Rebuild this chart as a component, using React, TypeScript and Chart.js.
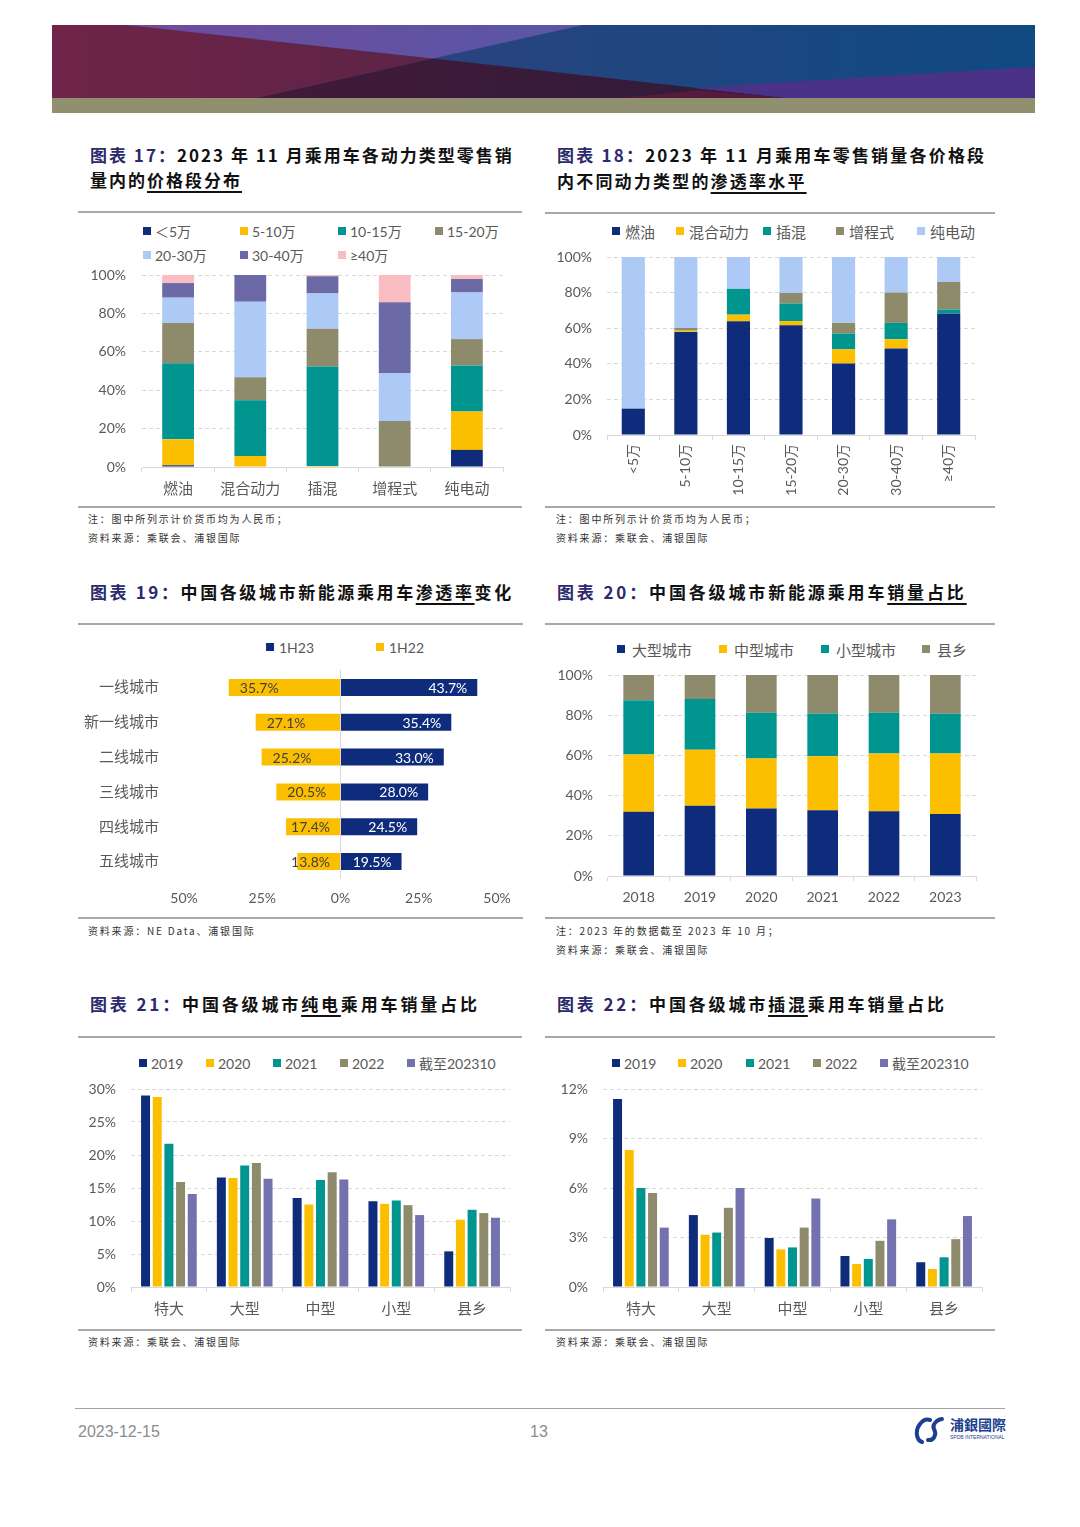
import React, { useEffect, useRef } from 'react';
import { Chart, registerables } from 'chart.js';

Chart.register(...registerables);

// ---------------- Chart 17 data ----------------
const POWER_TYPES = ['燃油', '混合动力', '插混', '增程式', '纯电动'];
const PRICE_BANDS_17 = ['＜5万', '5-10万', '10-15万', '15-20万', '20-30万', '30-40万', '≥40万'];
const SHARE_LT5 = [0.9, 0, 0, 0, 8.9];
const SHARE_5_10 = [13.5, 5.7, 0.5, 0, 20.0];
const SHARE_10_15 = [39.7, 29.1, 51.8, 0, 24.0];
const SHARE_15_20 = [20.9, 12.0, 19.7, 24.0, 13.7];
const SHARE_20_30 = [13.2, 39.3, 18.3, 24.9, 24.3];
const SHARE_30_40 = [7.6, 13.9, 9.0, 36.9, 7.0];
const SHARE_GE40 = [4.2, 0, 0.7, 14.2, 2.1];

// ---------------- Chart 18 data ----------------
const PRICE_BANDS_18 = ['<5万', '5-10万', '10-15万', '15-20万', '20-30万', '30-40万', '≥40万'];
const POWER_SERIES_18 = ['燃油', '混合动力', '插混', '增程式', '纯电动'];
const PEN_ICE = [14.8, 57.9, 63.9, 61.7, 40.2, 48.6, 68.3];
const PEN_HEV = [0, 0.8, 3.7, 2.3, 7.9, 5.2, 0];
const PEN_PHEV = [0, 0.3, 14.5, 9.9, 8.9, 9.2, 2.2];
const PEN_EREV = [0, 1.1, 0, 5.9, 6.0, 17.0, 15.5];
const PEN_BEV = [85.2, 39.9, 17.9, 20.2, 37.0, 20.0, 14.0];

// ---------------- Chart 19 data ----------------
const CITY_TIERS = ['一线城市', '新一线城市', '二线城市', '三线城市', '四线城市', '五线城市'];
const HALF_YEARS = ['1H23', '1H22'];
const PEN_1H23 = [43.7, 35.4, 33.0, 28.0, 24.5, 19.5];
const PEN_1H22 = [35.7, 27.1, 25.2, 20.5, 17.4, 13.8];
const AXIS19_TICKS = [-50, -25, 0, 25, 50];

// ---------------- Chart 20 data ----------------
const YEARS_20 = ['2018', '2019', '2020', '2021', '2022', '2023'];
const CITY_CLASSES = ['大型城市', '中型城市', '小型城市', '县乡'];
const SHARE_LARGE = [32.0, 35.0, 33.6, 32.7, 32.2, 30.9];
const SHARE_MEDIUM = [28.5, 27.8, 24.9, 26.9, 28.8, 30.1];
const SHARE_SMALL = [27.0, 25.2, 22.7, 21.3, 20.2, 19.7];
const SHARE_COUNTY = [12.5, 12.0, 18.8, 19.1, 18.8, 19.3];

// ---------------- Chart 21 / 22 data ----------------
const CITY_SIZES = ['特大', '大型', '中型', '小型', '县乡'];
const SERIES_YEARS = ['2019', '2020', '2021', '2022', '截至202310'];
const BEV_2019 = [29.0, 16.6, 13.5, 13.0, 5.4];
const BEV_2020 = [28.8, 16.5, 12.5, 12.6, 10.2];
const BEV_2021 = [21.7, 18.4, 16.2, 13.1, 11.7];
const BEV_2022 = [15.9, 18.8, 17.4, 12.4, 11.2];
const BEV_202310 = [14.1, 16.4, 16.3, 10.9, 10.5];
const PHEV_2019 = [11.4, 4.36, 2.97, 1.88, 1.5];
const PHEV_2020 = [8.3, 3.17, 2.28, 1.39, 1.09];
const PHEV_2021 = [6.0, 3.3, 2.4, 1.7, 1.8];
const PHEV_2022 = [5.7, 4.8, 3.6, 2.8, 2.9];
const PHEV_202310 = [3.6, 6.0, 5.37, 4.1, 4.3];

// ---------------- styles ----------------
const NAVY = '#0f2c7c';
const YELLOW = '#fcbf00';
const TEAL = '#00958f';
const OLIVE = '#8d8b6b';
const LIGHTBLUE = '#adc9f5';
const PURPLE = '#6b69a6';
const PINK = '#f9bcc1';
const PURPLE2 = '#7372ae';
const COLORS17 = [NAVY, YELLOW, TEAL, OLIVE, LIGHTBLUE, PURPLE, PINK];
const COLORS18 = [NAVY, YELLOW, TEAL, OLIVE, LIGHTBLUE];
const COLORS20 = [NAVY, YELLOW, TEAL, OLIVE];
const COLORS21 = [NAVY, YELLOW, TEAL, OLIVE, PURPLE2];
const FONT = 'Lato, "Noto Sans CJK SC", sans-serif';
const CJKFONT = '"Noto Sans CJK SC", sans-serif';
const TICK = '#595959';
const GRID = '#d9d9d9';

Chart.defaults.font.family = FONT;

function baseOptions(padding: any) {
  return {
    responsive: false,
    maintainAspectRatio: false,
    animation: false,
    devicePixelRatio: 1,
    layout: { padding },
    plugins: { legend: { display: false }, tooltip: { enabled: false }, title: { display: false } },
  };
}

function zeroPad(s: any) {
  s.paddingTop = 0;
  s.paddingBottom = 0;
  s.paddingLeft = 0;
  s.paddingRight = 0;
}

function pctY(max: number, step: number, width: number, padding: number, stacked: boolean) {
  return {
    stacked,
    min: 0,
    max,
    ticks: {
      stepSize: step,
      callback: (v: any) => v + '%',
      color: TICK,
      font: { family: FONT, size: 14 },
      padding,
    },
    grid: { color: GRID, drawTicks: false, lineWidth: 1 },
    border: { display: false, dash: [4, 3] },
    afterFit: (s: any) => {
      s.width = width;
      zeroPad(s);
    },
  };
}

function catX(height: number, padding: number, stacked: boolean, size: number, rotate: number) {
  return {
    stacked,
    offset: true,
    ticks: {
      color: TICK,
      font: { family: FONT, size },
      padding,
      maxRotation: rotate,
      minRotation: rotate,
      autoSkip: false,
    },
    grid: { display: true, drawOnChartArea: false, drawTicks: true, tickLength: 5, color: GRID, offset: true },
    border: { display: true, color: GRID },
    afterFit: (s: any) => {
      s.height = height;
      zeroPad(s);
    },
  };
}

const build17 = () => ({
  type: 'bar',
  data: {
    labels: POWER_TYPES,
    datasets: [SHARE_LT5, SHARE_5_10, SHARE_10_15, SHARE_15_20, SHARE_20_30, SHARE_30_40, SHARE_GE40].map((d, i) => ({
      label: PRICE_BANDS_17[i],
      data: d,
      backgroundColor: COLORS17[i],
      categoryPercentage: 1,
      barPercentage: 0.44,
    })),
  },
  options: {
    ...baseOptions({ top: 10, right: 7, left: 0, bottom: 0 }),
    scales: { x: catX(33, 8, true, 15, 0), y: pctY(100, 20, 62, 16, true) },
  },
});

const build18 = () => ({
  type: 'bar',
  data: {
    labels: PRICE_BANDS_18,
    datasets: [PEN_ICE, PEN_HEV, PEN_PHEV, PEN_EREV, PEN_BEV].map((d, i) => ({
      label: POWER_SERIES_18[i],
      data: d,
      backgroundColor: COLORS18[i],
      categoryPercentage: 1,
      barPercentage: 0.44,
    })),
  },
  options: {
    ...baseOptions({ top: 11, right: 10, left: 0, bottom: 0 }),
    scales: { x: catX(70, 4, true, 14, 90), y: pctY(100, 20, 57, 15, true) },
  },
});

const divergingLabels = {
  id: 'divergingLabels',
  afterDatasetsDraw(chart: any) {
    const ctx = chart.ctx;
    ctx.save();
    ctx.font = '14px ' + FONT;
    ctx.textBaseline = 'middle';
    ctx.textAlign = 'left';
    chart.data.datasets.forEach((ds: any, di: number) => {
      const meta = chart.getDatasetMeta(di);
      meta.data.forEach((bar: any, i: number) => {
        const v = ds.data[i] as number;
        const txt = Math.abs(v).toFixed(1) + '%';
        const w = ctx.measureText(txt).width;
        if (v >= 0) {
          ctx.fillStyle = '#ffffff';
          ctx.fillText(txt, bar.x - 10 - w, bar.y + 1);
        } else {
          ctx.fillStyle = '#404040';
          const x = Math.min(bar.x + 11, bar.base - 10 - w);
          ctx.fillText(txt, x, bar.y + 1);
        }
      });
    });
    ctx.restore();
  },
};

const build19 = () => ({
  type: 'bar',
  data: {
    labels: CITY_TIERS,
    datasets: [
      { label: HALF_YEARS[0], data: PEN_1H23, backgroundColor: NAVY, categoryPercentage: 1, barPercentage: 0.49 },
      { label: HALF_YEARS[1], data: PEN_1H22.map((v) => -v), backgroundColor: YELLOW, categoryPercentage: 1, barPercentage: 0.49 },
    ],
  },
  options: {
    ...baseOptions({ top: 10, right: 20, left: 0, bottom: 0 }),
    indexAxis: 'y',
    scales: {
      x: {
        stacked: true,
        min: AXIS19_TICKS[0],
        max: AXIS19_TICKS[AXIS19_TICKS.length - 1],
        afterBuildTicks: (s: any) => {
          s.ticks = AXIS19_TICKS.map((v) => ({ value: v }));
        },
        ticks: {
          callback: (v: any) => Math.abs(v) + '%',
          color: TICK,
          font: { family: FONT, size: 14 },
          padding: 11,
          maxRotation: 0,
        },
        grid: {
          drawTicks: false,
          color: (c: any) => (c.tick && c.tick.value === 0 ? GRID : 'rgba(0,0,0,0)'),
        },
        border: { display: false },
        afterFit: (s: any) => {
          s.height = 36;
          zeroPad(s);
        },
      },
      y: {
        stacked: true,
        ticks: { color: TICK, font: { family: FONT, size: 15 }, padding: 17 },
        grid: { display: false },
        border: { display: false },
        afterFit: (s: any) => {
          s.width = 104;
          zeroPad(s);
        },
      },
    },
  },
  plugins: [divergingLabels],
});

const build20 = () => ({
  type: 'bar',
  data: {
    labels: YEARS_20,
    datasets: [SHARE_LARGE, SHARE_MEDIUM, SHARE_SMALL, SHARE_COUNTY].map((d, i) => ({
      label: CITY_CLASSES[i],
      data: d,
      backgroundColor: COLORS20[i],
      categoryPercentage: 1,
      barPercentage: 0.5,
    })),
  },
  options: {
    ...baseOptions({ top: 10, right: 9, left: 0, bottom: 0 }),
    scales: { x: catX(34, 8, true, 14, 0), y: pctY(100, 20, 58, 15, true) },
  },
});

const buildGrouped = (series: number[][], max: number, step: number, yWidth: number) => () => ({
  type: 'bar',
  data: {
    labels: CITY_SIZES,
    datasets: series.map((d, i) => ({
      label: SERIES_YEARS[i],
      data: d,
      backgroundColor: COLORS21[i],
      categoryPercentage: 0.77,
      barPercentage: 0.77,
    })),
  },
  options: {
    ...baseOptions({ top: 10, right: 8, left: 0, bottom: 0 }),
    scales: { x: catX(33, 8, false, 15, 0), y: pctY(max, step, yWidth, 15, false) },
  },
});

const build21 = buildGrouped([BEV_2019, BEV_2020, BEV_2021, BEV_2022, BEV_202310], 30, 5, 53);
const build22 = buildGrouped([PHEV_2019, PHEV_2020, PHEV_2021, PHEV_2022, PHEV_202310], 12, 3, 58);

function ChartBox({ x, y, w, h, build }: { x: number; y: number; w: number; h: number; build: () => any }) {
  const ref = useRef<HTMLCanvasElement | null>(null);
  useEffect(() => {
    if (!ref.current) return;
    const chart = new Chart(ref.current, build() as any);
    return () => chart.destroy();
  }, []);
  return (
    <div style={{ position: 'absolute', left: x, top: y, width: w, height: h }}>
      <canvas ref={ref} width={w} height={h} style={{ display: 'block', width: w, height: h }} />
    </div>
  );
}

function Legend({ items, y, size, gap }: { items: [number, string, string][]; y: number; size: number; gap: number }) {
  return (
    <>
      {items.map(([x, label, color], i) => (
        <div
          key={i}
          style={{
            position: 'absolute',
            left: x,
            top: y - 11,
            height: 22,
            display: 'flex',
            alignItems: 'center',
            whiteSpace: 'nowrap',
            fontFamily: FONT,
            fontSize: size,
            color: TICK,
          }}
        >
          <span style={{ display: 'inline-block', width: 8, height: 8, background: color, marginRight: gap }} />
          <span>{label}</span>
        </div>
      ))}
    </>
  );
}

function Title({ x, y, num, parts, ls }: { x: number; y: number; num?: string; parts: [string, boolean][]; ls: number }) {
  return (
    <div
      style={{
        position: 'absolute',
        left: x,
        top: y - 12,
        lineHeight: '24px',
        fontFamily: CJKFONT,
        fontWeight: 700,
        fontSize: 17,
        letterSpacing: ls,
        whiteSpace: 'nowrap',
        color: '#111',
      }}
    >
      {num ? <span style={{ color: '#2c2a6c' }}>{'图表 ' + num + '：'}</span> : null}
      {parts.map(([t, u], i) =>
        u ? (
          <span key={i} style={{ textDecoration: 'underline', textUnderlineOffset: 4, textDecorationThickness: 1.5 }}>
            {t}
          </span>
        ) : (
          <span key={i}>{t}</span>
        ),
      )}
    </div>
  );
}

function Rule({ x, y, w }: { x: number; y: number; w: number }) {
  return <div style={{ position: 'absolute', left: x, top: y - 1, width: w, height: 2, background: '#a8a8a8' }} />;
}

function Note({ x, y, text }: { x: number; y: number; text: string }) {
  return (
    <div
      style={{
        position: 'absolute',
        left: x,
        top: y - 7,
        lineHeight: '14px',
        fontFamily: CJKFONT,
        fontSize: 10,
        letterSpacing: 1.8,
        color: '#333',
        whiteSpace: 'nowrap',
      }}
    >
      {text}
    </div>
  );
}

export default function App() {
  return (
    <div
      style={{
        position: 'absolute',
        left: 0,
        top: 0,
        width: 1080,
        height: 1527,
        background: '#ffffff',
        overflow: 'hidden',
        fontFamily: CJKFONT,
      }}
    >
      {/* header banner */}
      <svg style={{ position: 'absolute', left: 0, top: 0 }} width={1080} height={120}>
        <defs>
          <linearGradient id="gMaroon" x1="0" x2="1" y1="0" y2="0">
            <stop offset="0" stopColor="#702449" />
            <stop offset="1" stopColor="#5d2446" />
          </linearGradient>
          <linearGradient id="gPurple" x1="0" x2="1" y1="0" y2="0">
            <stop offset="0" stopColor="#6e4c9d" />
            <stop offset="1" stopColor="#5a56a5" />
          </linearGradient>
          <linearGradient id="gBlue" x1="0" x2="1" y1="0" y2="0">
            <stop offset="0" stopColor="#3a3f7f" />
            <stop offset="1" stopColor="#0f4a80" />
          </linearGradient>
          <linearGradient id="gDark" x1="0" x2="1" y1="0" y2="0">
            <stop offset="0" stopColor="#421a38" />
            <stop offset="1" stopColor="#2f1c3a" />
          </linearGradient>
        </defs>
        <rect x={52} y={25} width={983} height={73} fill="url(#gBlue)" />
        <polygon points="52,25 127,25 433,58.5 257,98 52,98" fill="url(#gMaroon)" />
        <polygon points="127,25 583,25 433,58.5" fill="url(#gPurple)" />
        <polygon points="257,98 433,58.5 787,98" fill="url(#gDark)" />
        <polygon points="620,98 700,90 787,98" fill="#561b3c" />
        <polygon points="693,88 1035,66.7 1035,98 787,98" fill="#4a3286" />
        <rect x={52} y={98} width={983} height={15} fill="#908f6f" />
      </svg>

      {/* Chart 17 */}
      <Title x={90} y={155} num="17" parts={[['2023 年 11 月乘用车各动力类型零售销', false]]} ls={2} />
      <Title x={90} y={180} parts={[['量内的', false], ['价格段分布', true]]} ls={2} />
      <Rule x={78} y={212} w={444} />
      <Legend
        y={231}
        size={14}
        gap={4}
        items={[
          [143, PRICE_BANDS_17[0], COLORS17[0]],
          [240, PRICE_BANDS_17[1], COLORS17[1]],
          [338, PRICE_BANDS_17[2], COLORS17[2]],
          [435, PRICE_BANDS_17[3], COLORS17[3]],
        ]}
      />
      <Legend
        y={255}
        size={14}
        gap={4}
        items={[
          [143, PRICE_BANDS_17[4], COLORS17[4]],
          [240, PRICE_BANDS_17[5], COLORS17[5]],
          [338, PRICE_BANDS_17[6], COLORS17[6]],
        ]}
      />
      <ChartBox x={80} y={265} w={430} h={235} build={build17} />
      <Rule x={78} y={507} w={444} />
      <Note x={88} y={519} text="注：图中所列示计价货币均为人民币；" />
      <Note x={88} y={538} text="资料来源：乘联会、浦银国际" />

      {/* Chart 18 */}
      <Title x={557} y={155} num="18" parts={[['2023 年 11 月乘用车零售销量各价格段', false]]} ls={2.2} />
      <Title x={557} y={181} parts={[['内不同动力类型的', false], ['渗透率水平', true]]} ls={2.2} />
      <Rule x={545} y={213} w={450} />
      <Legend
        y={231}
        size={15}
        gap={5}
        items={[
          [612, POWER_SERIES_18[0], COLORS18[0]],
          [676, POWER_SERIES_18[1], COLORS18[1]],
          [763, POWER_SERIES_18[2], COLORS18[2]],
          [836, POWER_SERIES_18[3], COLORS18[3]],
          [917, POWER_SERIES_18[4], COLORS18[4]],
        ]}
      />
      <ChartBox x={550} y={246} w={435} h={259} build={build18} />
      <Rule x={545} y={507} w={450} />
      <Note x={556} y={519} text="注：图中所列示计价货币均为人民币；" />
      <Note x={556} y={538} text="资料来源：乘联会、浦银国际" />

      {/* Chart 19 */}
      <Title x={90} y={592} num="19" parts={[['中国各级城市新能源乘用车', false], ['渗透率', true], ['变化', false]]} ls={2.6} />
      <Rule x={78} y={624} w={445} />
      <Legend
        y={647}
        size={14}
        gap={5}
        items={[
          [266, HALF_YEARS[0], NAVY],
          [376, HALF_YEARS[1], YELLOW],
        ]}
      />
      <ChartBox x={80} y={660} w={437} h={255} build={build19} />
      <Rule x={78} y={918} w={445} />
      <Note x={88} y={931} text="资料来源：NE Data、浦银国际" />

      {/* Chart 20 */}
      <Title x={557} y={592} num="20" parts={[['中国各级城市新能源乘用车', false], ['销量占比', true]]} ls={2.85} />
      <Rule x={545} y={624} w={450} />
      <Legend
        y={649}
        size={15}
        gap={7}
        items={[
          [617, CITY_CLASSES[0], COLORS20[0]],
          [719, CITY_CLASSES[1], COLORS20[1]],
          [821, CITY_CLASSES[2], COLORS20[2]],
          [922, CITY_CLASSES[3], COLORS20[3]],
        ]}
      />
      <ChartBox x={550} y={665} w={435} h={245} build={build20} />
      <Rule x={545} y={918} w={450} />
      <Note x={556} y={931} text="注：2023 年的数据截至 2023 年 10 月；" />
      <Note x={556} y={950} text="资料来源：乘联会、浦银国际" />

      {/* Chart 21 */}
      <Title x={90} y={1004} num="21" parts={[['中国各级城市', false], ['纯电', true], ['乘用车销量占比', false]]} ls={2.85} />
      <Rule x={78} y={1037} w={444} />
      <Legend
        y={1063}
        size={14}
        gap={4}
        items={[
          [139, SERIES_YEARS[0], COLORS21[0]],
          [206, SERIES_YEARS[1], COLORS21[1]],
          [273, SERIES_YEARS[2], COLORS21[2]],
          [340, SERIES_YEARS[3], COLORS21[3]],
          [407, SERIES_YEARS[4], COLORS21[4]],
        ]}
      />
      <ChartBox x={78} y={1079} w={440} h={241} build={build21} />
      <Rule x={78} y={1330} w={444} />
      <Note x={88} y={1342} text="资料来源：乘联会、浦银国际" />

      {/* Chart 22 */}
      <Title x={557} y={1004} num="22" parts={[['中国各级城市', false], ['插混', true], ['乘用车销量占比', false]]} ls={2.85} />
      <Rule x={545} y={1037} w={450} />
      <Legend
        y={1063}
        size={14}
        gap={4}
        items={[
          [612, SERIES_YEARS[0], COLORS21[0]],
          [678, SERIES_YEARS[1], COLORS21[1]],
          [746, SERIES_YEARS[2], COLORS21[2]],
          [813, SERIES_YEARS[3], COLORS21[3]],
          [880, SERIES_YEARS[4], COLORS21[4]],
        ]}
      />
      <ChartBox x={545} y={1079} w={445} h={241} build={build22} />
      <Rule x={545} y={1330} w={450} />
      <Note x={556} y={1342} text="资料来源：乘联会、浦银国际" />

      {/* footer */}
      <div style={{ position: 'absolute', left: 75, top: 1408, width: 930, height: 1, background: '#a0a0a0' }} />
      <div
        style={{
          position: 'absolute',
          left: 78,
          top: 1423,
          fontFamily: '"Liberation Sans Narrow", "Liberation Sans", sans-serif',
          fontSize: 16,
          lineHeight: '18px',
          color: '#8c8c8c',
        }}
      >
        2023-12-15
      </div>
      <div
        style={{
          position: 'absolute',
          left: 530,
          top: 1423,
          fontFamily: '"Liberation Sans Narrow", "Liberation Sans", sans-serif',
          fontSize: 16,
          lineHeight: '18px',
          color: '#8c8c8c',
        }}
      >
        13
      </div>
      <svg style={{ position: 'absolute', left: 912, top: 1416 }} width={36} height={28}>
        <path d="M10 26 C4 24 3 14 8 8 C11 4 15 3 18 4" stroke="#1d3f8f" strokeWidth={4} fill="none" strokeLinecap="round" />
        <path d="M16 24 C22 25 25 18 22 13 C20 9 24 4 30 3" stroke="#1d3f8f" strokeWidth={4} fill="none" strokeLinecap="round" />
      </svg>
      <div
        style={{
          position: 'absolute',
          left: 950,
          top: 1416,
          fontFamily: '"Noto Sans CJK TC", sans-serif',
          fontWeight: 700,
          fontSize: 14,
          lineHeight: '16px',
          color: '#1d3f8f',
          whiteSpace: 'nowrap',
        }}
      >
        浦銀國際
      </div>
      <div
        style={{
          position: 'absolute',
          left: 950,
          top: 1434,
          fontFamily: '"Liberation Sans", sans-serif',
          fontSize: 5,
          lineHeight: '6px',
          color: '#1d3f8f',
          whiteSpace: 'nowrap',
        }}
      >
        SPDB INTERNATIONAL
      </div>
    </div>
  );
}
